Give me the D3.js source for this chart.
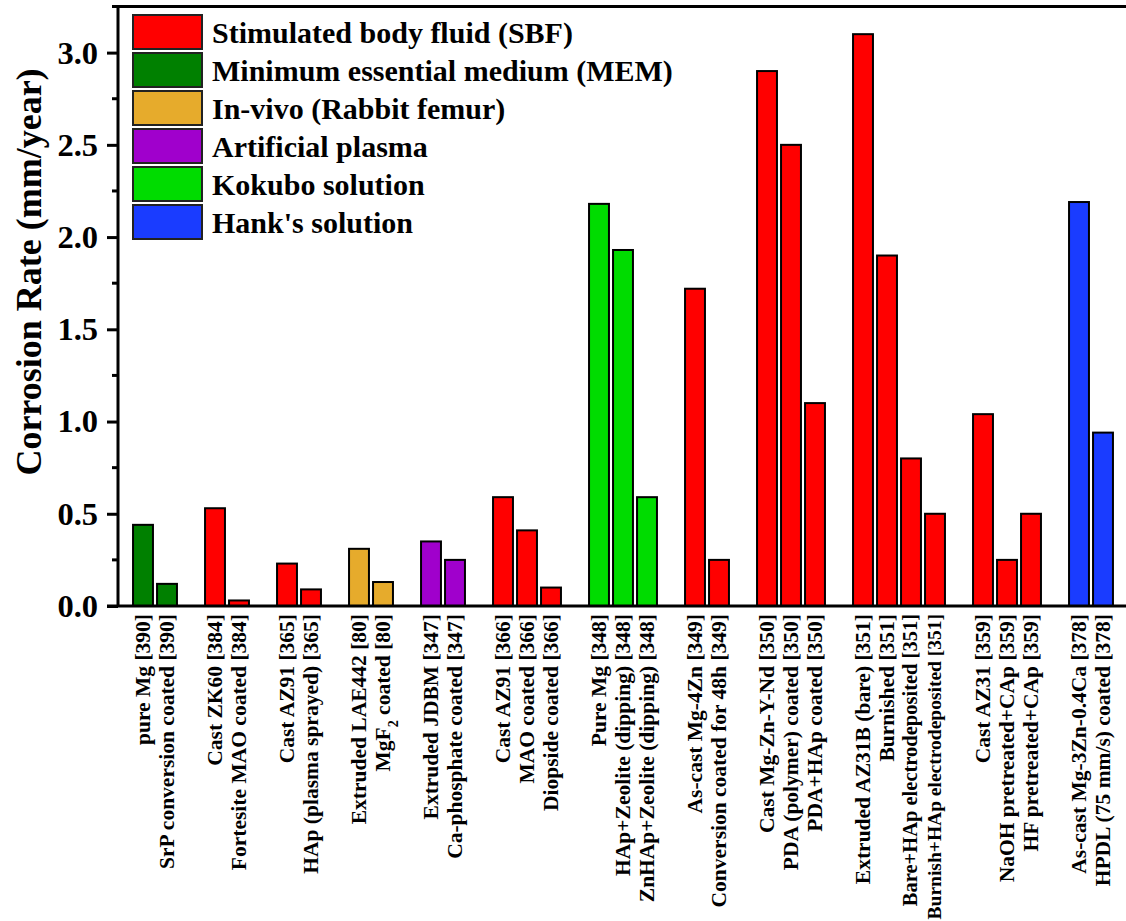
<!DOCTYPE html>
<html>
<head>
<meta charset="utf-8">
<script src="https://cdn.jsdelivr.net/npm/d3@7"></script>
<style>
    html, body { margin: 0; padding: 0; background: #fff; }
    svg text { font-family: "Liberation Serif", "Times New Roman", serif; font-weight: bold; fill: #000; }
</style>
</head>
<body>
<div id="chart"></div>
<script>
// legend / media
const media = [
    "Stimulated body fluid (SBF)",
    "Minimum essential medium (MEM)",
    "In-vivo (Rabbit femur)",
    "Artificial plasma",
    "Kokubo solution",
    "Hank's solution"
];
const mediaColors = ["#ff0000", "#008000", "#e6ab2c", "#a000cc", "#00dc00", "#1a3cff"];

// one entry per bar, groups are separated by an empty slot
const labels = [
    "pure Mg [390]", "SrP conversion coated [390]",
    "Cast ZK60 [384]", "Fortesite MAO coated [384]",
    "Cast AZ91 [365]", "HAp (plasma sprayed) [365]",
    "Extruded LAE442 [80]", "MgF2 coated [80]",
    "Extruded JDBM [347]", "Ca-phosphate coated [347]",
    "Cast AZ91 [366]", "MAO coated [366]", "Diopside coated [366]",
    "Pure Mg [348]", "HAp+Zeolite (dipping) [348]", "ZnHAp+Zeolite (dipping) [348]",
    "As-cast Mg-4Zn [349]", "Conversion coated for 48h [349]",
    "Cast Mg-Zn-Y-Nd [350]", "PDA (polymer) coated [350]", "PDA+HAp coated [350]",
    "Extruded AZ31B (bare) [351]", "Burnished [351]", "Bare+HAp electrodeposited [351]", "Burnish+HAp electrodeposited [351]",
    "Cast AZ31 [359]", "NaOH pretreated+CAp [359]", "HF pretreated+CAp [359]",
    "As-cast Mg-3Zn-0.4Ca [378]", "HPDL (75 mm/s) coated [378]"
];
const rates = [
    0.44, 0.12,
    0.53, 0.03,
    0.23, 0.09,
    0.31, 0.13,
    0.35, 0.25,
    0.59, 0.41, 0.10,
    2.18, 1.93, 0.59,
    1.72, 0.25,
    2.90, 2.50, 1.10,
    3.10, 1.90, 0.80, 0.50,
    1.04, 0.25, 0.50,
    2.19, 0.94
];
const medium = [
    1, 1,
    0, 0,
    0, 0,
    2, 2,
    3, 3,
    0, 0, 0,
    4, 4, 4,
    0, 0,
    0, 0, 0,
    0, 0, 0, 0,
    0, 0, 0,
    5, 5
];
const group = [
    0, 0,
    1, 1,
    2, 2,
    3, 3,
    4, 4,
    5, 5, 5,
    6, 6, 6,
    7, 7,
    8, 8, 8,
    9, 9, 9, 9,
    10, 10, 10,
    11, 11
];
// a few long labels are set a bit smaller in the original
const labelSize = { "Bare+HAp electrodeposited [351]": 20.5, "Burnish+HAp electrodeposited [351]": 19.5 };
const yTicks = [0, 0.5, 1.0, 1.5, 2.0, 2.5, 3.0];
const yMinorTicks = [0.25, 0.75, 1.25, 1.75, 2.25, 2.75, 3.25];

const W = 1126, H = 921;
const plot = { left: 118, top: 6.5, bottom: 606, right: W };

const data = labels.map((l, i) => ({ id: i, label: l, v: rates[i], m: medium[i], g: group[i] }));

// slots: bars plus one spacer between groups
const slots = [];
data.forEach((d, i) => {
    if (i > 0 && d.g !== data[i - 1].g) slots.push("gap" + d.g);
    slots.push("b" + i);
});

const x = d3.scaleBand()
    .domain(slots)
    .range([131, 131 + slots.length * 24])
    .paddingInner(0.17)
    .paddingOuter(0.085);

const y = d3.scaleLinear().domain([0, 3.25]).range([plot.bottom, plot.top]);

const svg = d3.select("#chart")
    .append("svg")
    .attr("width", W)
    .attr("height", H);

// bars
svg.append("g")
    .selectAll("rect")
    .data(data)
    .join("rect")
    .attr("x", d => x("b" + d.id))
    .attr("y", d => y(d.v))
    .attr("width", x.bandwidth())
    .attr("height", d => y(0) - y(d.v))
    .style("fill", d => mediaColors[d.m])
    .style("stroke", "#000")
    .style("stroke-width", 2);

// y axis
const yAxis = svg.append("g")
    .attr("transform", `translate(${plot.left},0)`)
    .call(d3.axisLeft(y).tickValues(yTicks).tickFormat(d3.format(".1f")).tickSize(11).tickPadding(9));
yAxis.select(".domain").remove();
yAxis.selectAll(".tick line").style("stroke-width", 3);
yAxis.selectAll(".tick text").style("font-size", "32.5px");

svg.append("g")
    .attr("transform", `translate(${plot.left},0)`)
    .selectAll("line")
    .data(yMinorTicks)
    .join("line")
    .attr("x1", -6).attr("x2", 0)
    .attr("y1", d => y(d)).attr("y2", d => y(d))
    .style("stroke", "#000").style("stroke-width", 3);

// frame (left, bottom, top)
svg.append("path")
    .attr("d", `M${plot.right},${plot.top}H${plot.left}V${plot.bottom}`)
    .style("fill", "none").style("stroke", "#000").style("stroke-width", 3);
svg.append("line")
    .attr("x1", plot.left - 11).attr("x2", plot.right)
    .attr("y1", plot.bottom).attr("y2", plot.bottom)
    .style("stroke", "#000").style("stroke-width", 3);

// y title
svg.append("text")
    .attr("transform", "translate(28,272) rotate(-90)")
    .attr("text-anchor", "middle")
    .attr("dy", "0.35em")
    .style("font-size", "36px")
    .text("Corrosion Rate (mm/year)");

// x labels, rotated
const xl = svg.append("g")
    .selectAll("text")
    .data(data)
    .join("text")
    .attr("transform", d => `translate(${x("b" + d.id) + x.bandwidth() / 2 - 1},${plot.bottom + 8}) rotate(-90)`)
    .attr("text-anchor", "end")
    .attr("dy", "0.35em")
    .style("font-size", d => (labelSize[d.label] || 21.5) + "px");

xl.each(function (d) {
    const t = d3.select(this);
    const m = d.label.match(/^MgF2(.*)$/);
    if (m) {
        t.append("tspan").text("MgF");
        t.append("tspan").attr("baseline-shift", "sub").style("font-size", "14px").text("2");
        t.append("tspan").text(m[1]);
    } else {
        t.text(d.label);
    }
});

// legend
const legend = svg.append("g")
    .selectAll("g")
    .data(media)
    .join("g")
    .attr("transform", (d, i) => `translate(133,${15 + i * 38})`);

legend.append("rect")
    .attr("width", 69)
    .attr("height", 34)
    .style("fill", (d, i) => mediaColors[i])
    .style("stroke", "#222")
    .style("stroke-width", 2);

legend.append("text")
    .attr("x", 79)
    .attr("y", 17)
    .attr("dy", "0.35em")
    .style("font-size", "30px")
    .text(d => d);
</script>
</body>
</html>
